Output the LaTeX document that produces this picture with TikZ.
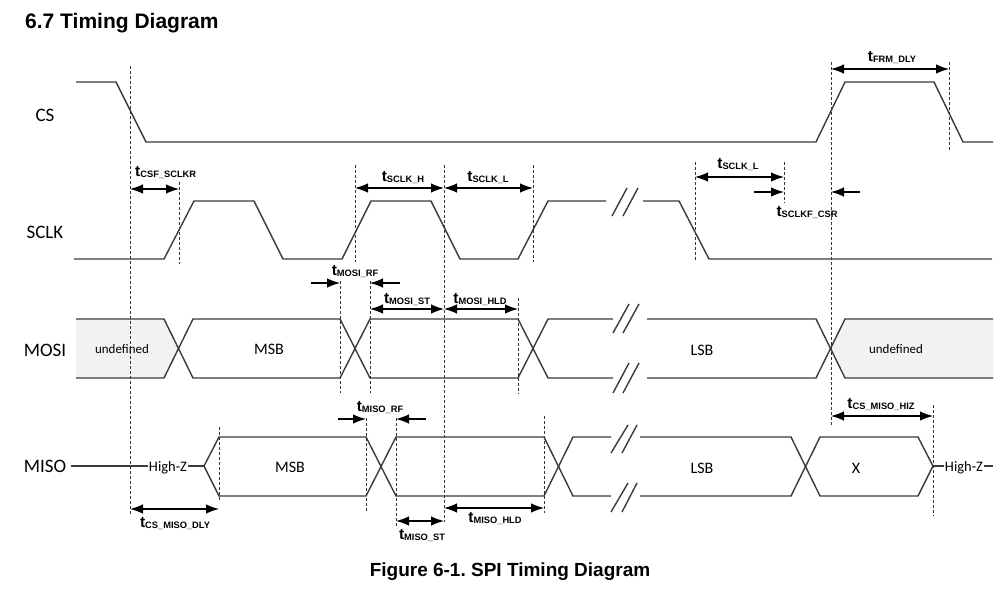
\documentclass[tikz,border=0pt]{standalone}
\usepackage{fontspec}
\setmainfont{Liberation Sans}
\newfontfamily\carl{Carlito}
\usetikzlibrary{arrows.meta}
\frenchspacing
\definecolor{wavec}{HTML}{3A3A3A}
\definecolor{undef}{HTML}{F2F2F2}
\newcommand{\tlab}[1]{\bfseries\fontsize{15.5}{15.5}\selectfont t\raisebox{-1.5pt}{\fontsize{9.3}{9.3}\selectfont #1}}
\tikzset{
  wave/.style={draw=wavec, line width=1.4pt, line join=miter},
  guide/.style={draw=black!80, line width=0.9pt, dash pattern=on 3pt off 2pt},
  dimboth/.style={draw=black, line width=1.2pt, {Latex[length=13pt,width=9.5pt]}-{Latex[length=13pt,width=9.5pt]}},
  dimone/.style={draw=black, line width=1.2pt, -{Latex[length=13pt,width=9.5pt]}},
  sig/.style={font=\carl\fontsize{19}{19}\selectfont, inner sep=0pt, anchor=base},
  inlab/.style={font=\carl\fontsize{16}{16}\selectfont, inner sep=0pt, anchor=base},
  smlab/.style={font=\carl\fontsize{13}{13}\selectfont, inner sep=0pt, anchor=base},
  hiz/.style={font=\carl\fontsize{14.5}{14.5}\selectfont, inner sep=1pt, fill=white, anchor=base},
  tl/.style={inner sep=0pt, anchor=base}
}
\begin{document}
\begin{tikzpicture}[x=1pt,y=-1pt]
\useasboundingbox (0,0) rectangle (1000,594);
% title and caption
\node[anchor=base west, inner sep=0pt, font=\bfseries\fontsize{21}{21}\selectfont] (title) at (25,29) {6.7 Timing Diagram};
\node[anchor=base, inner sep=0pt, font=\bfseries\fontsize{19}{19}\selectfont] (caption) at (510,576) {Figure 6-1. SPI Timing Diagram};
% signal names
\node[sig] (lcs) at (45,121) {CS};
\node[sig] (lsclk) at (45,238) {SCLK};
\node[sig] (lmosi) at (45,356) {MOSI};
\node[sig] (lmiso) at (45,472) {MISO};
% undefined fills
\fill[undef] (76,319) -- (164,319) -- (179,348.5) -- (164,378) -- (76,378) -- cycle;
\fill[undef] (993,319) -- (845,319) -- (831,348.5) -- (845,378) -- (993,378) -- cycle;
% guide lines
\draw[guide] (130,66) -- (130,515);
\draw[guide] (179,182) -- (179,264);
\draw[guide] (355,165) -- (355,262);
\draw[guide] (444,165) -- (444,522);
\draw[guide] (533,165) -- (533,262);
\draw[guide] (695,162) -- (695,262);
\draw[guide] (784,162) -- (784,203);
\draw[guide] (831,62) -- (831,427);
\draw[guide] (949,62) -- (949,150);
\draw[guide] (340,281) -- (340,393);
\draw[guide] (370,281) -- (370,393);
\draw[guide] (518,298) -- (518,394);
\draw[guide] (219,427) -- (219,500);
\draw[guide] (366,418) -- (366,512);
\draw[guide] (396,418) -- (396,528);
\draw[guide] (544,416) -- (544,513);
\draw[guide] (933,405) -- (933,516);
% CS
\draw[wave] (76,82) -- (116,82) -- (146,142) -- (816,142) -- (845,82) -- (934,82) -- (963,142) -- (993,142);
% SCLK
\draw[wave] (74,259) -- (164,259) -- (194,201) -- (254,201) -- (283,259) -- (342,259) -- (371,201) -- (431,201) -- (460,259) -- (518,259) -- (548,201) -- (606,201);
\draw[wave] (643,201) -- (679,201) -- (709,259) -- (992,259);
\draw[wave] (612,216) -- (627,188);
\draw[wave] (623,216) -- (638,188);
% MOSI
\draw[wave] (76,319) -- (164,319) -- (193,378) -- (340,378) -- (370,319) -- (518,319) -- (548,378) -- (613,378);
\draw[wave] (76,378) -- (164,378) -- (193,319) -- (340,319) -- (370,378) -- (518,378) -- (548,319) -- (613,319);
\draw[wave] (647,378) -- (816,378) -- (845,319) -- (993,319);
\draw[wave] (647,319) -- (816,319) -- (845,378) -- (993,378);
\draw[wave] (613,333) -- (629,304);
\draw[wave] (623,333) -- (639,304);
\draw[wave] (613,393) -- (629,363);
\draw[wave] (623,393) -- (639,363);
% MISO
\draw[wave] (71,466) -- (204,466);
\draw[wave] (933,466) -- (993,466);
\draw[wave] (204,466) -- (219,437) -- (366,437) -- (396,496) -- (544,496) -- (573,437) -- (611,437);
\draw[wave] (204,466) -- (219,496) -- (366,496) -- (396,437) -- (544,437) -- (573,496) -- (611,496);
\draw[wave] (640,437) -- (791,437) -- (820,496) -- (918,496) -- (933,466);
\draw[wave] (640,496) -- (791,496) -- (820,437) -- (918,437) -- (933,466);
\draw[wave] (611,453) -- (628,425);
\draw[wave] (622,453) -- (637,425);
\draw[wave] (611,512) -- (628,483);
\draw[wave] (622,512) -- (637,483);
% texts in buses
\node[smlab] (u1) at (122,353) {undefined};
\node[smlab] (u2) at (896,353) {undefined};
\node[inlab] (msb1) at (269,354) {MSB};
\node[inlab] (lsb1) at (702,355) {LSB};
\node[inlab] (msb2) at (290,472) {MSB};
\node[inlab] (lsb2) at (702,473) {LSB};
\node[inlab] (xx) at (856,473) {X};
\node[hiz] (hz1) at (168,471) {High-Z};
\node[hiz] (hz2) at (964,471) {High-Z};
% dimension arrows
\draw[dimboth] (130,189) -- (179,189);
\node[tl, anchor=base west] (t1) at (135,176) {\tlab{CSF\_SCLKR}};
\draw[dimboth] (355,188) -- (444,188);
\node[tl] (t2) at (403,181) {\tlab{SCLK\_H}};
\draw[dimboth] (444,188) -- (533,188);
\node[tl] (t3) at (488,181) {\tlab{SCLK\_L}};
\draw[dimboth] (695,177) -- (784,177);
\node[tl] (t4) at (738,168) {\tlab{SCLK\_L}};
\draw[dimone] (754,192) -- (784,192);
\draw[dimone] (860,192) -- (831,192);
\node[tl] (t5) at (807,216) {\tlab{SCLKF\_CSR}};
\draw[dimboth] (831,69) -- (949,69);
\node[tl] (t6) at (892,61) {\tlab{FRM\_DLY}};
\draw[dimone] (311,283) -- (340,283);
\draw[dimone] (400,283) -- (370,283);
\node[tl] (t7) at (355,275) {\tlab{MOSI\_RF}};
\draw[dimboth] (370,309) -- (444,309);
\node[tl] (t8) at (407,303) {\tlab{MOSI\_ST}};
\draw[dimboth] (444,309) -- (518,309);
\node[tl] (t9) at (480,303) {\tlab{MOSI\_HLD}};
\draw[dimone] (338,419) -- (366,419);
\draw[dimone] (426,419) -- (396,419);
\node[tl] (t10) at (380,411) {\tlab{MISO\_RF}};
\draw[dimboth] (396,521) -- (444,521);
\node[tl] (t11) at (422,539) {\tlab{MISO\_ST}};
\draw[dimboth] (444,508) -- (544,508);
\node[tl] (t12) at (495,522) {\tlab{MISO\_HLD}};
\draw[dimboth] (130,509) -- (219,509);
\node[tl] (t13) at (175,527) {\tlab{CS\_MISO\_DLY}};
\draw[dimboth] (831,416) -- (933,416);
\node[tl] (t14) at (881,408) {\tlab{CS\_MISO\_HIZ}};
\end{tikzpicture}
\end{document}
